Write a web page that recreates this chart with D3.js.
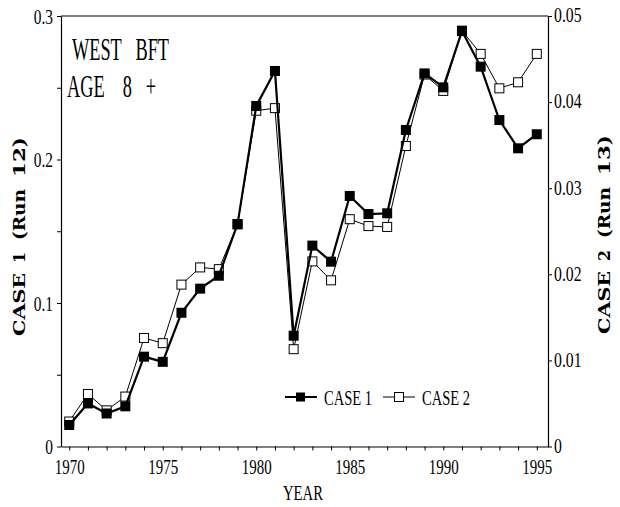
<!DOCTYPE html>
<html>
<head>
<meta charset="utf-8">
<script src="https://cdn.jsdelivr.net/npm/d3@7/dist/d3.min.js"></script>
<style>
  html, body { margin: 0; padding: 0; background: #fff; }
  svg { display: block; }
  text { fill: #000; }
</style>
</head>
<body>
<svg id="chart" width="620" height="507"></svg>
<script>
// West BFT, age 8+ : two model runs on separate y scales
const years = d3.range(1970, 1996);
const case1 = [0.015, 0.030, 0.023, 0.028, 0.0626, 0.059, 0.0932, 0.110, 0.119, 0.155,
               0.2373, 0.2617, 0.0772, 0.140, 0.1288, 0.1746, 0.162, 0.1625, 0.2206, 0.260,
               0.2503, 0.2895, 0.2647, 0.2275, 0.2078, 0.2176];
const case2 = [0.0029, 0.0061, 0.0042, 0.0058, 0.0126, 0.0120, 0.0188, 0.0208, 0.0206, 0.0258,
               0.0390, 0.0393, 0.0113, 0.0215, 0.0193, 0.0264, 0.0256, 0.0255, 0.0349, 0.0432,
               0.0413, 0.0483, 0.0456, 0.0416, 0.0423, 0.0456];
const leftTicks = [0, 0.05, 0.1, 0.15, 0.2, 0.25, 0.3];
const leftLabels = [0, 0.1, 0.2, 0.3];
const rightTicks = [0, 0.01, 0.02, 0.03, 0.04, 0.05];
const xLabels = [1970, 1975, 1980, 1985, 1990, 1995];
const seriesNames = ["CASE 1", "CASE 2"];
const leftTitle = ["CASE", "1", "(Run", "12)"];
const rightTitle = ["CASE", "2", "(Run", "13)"];

const svg = d3.select("#chart");
const serif = "'Liberation Serif', 'Times New Roman', serif";
const boldSerif = "'DejaVu Serif', serif";

const pL = 61, pR = 548, pT = 16, pB = 446.5;
const x = d3.scaleLinear().domain([1969.56, 1995.6]).range([pL, pR]);
const y1 = d3.scaleLinear().domain([0, 0.3]).range([pB, pT]);
const y2 = d3.scaleLinear().domain([0, 0.05]).range([pB, pT]);

// squeeze glyphs horizontally to get the narrow typewriter-era serif look
function condense(sel, k) {
  sel.each(function () {
    const w = this.getComputedTextLength();
    d3.select(this).attr("textLength", w * k).attr("lengthAdjust", "spacingAndGlyphs");
  });
}

// frame top line
svg.append("line").attr("x1", pL).attr("x2", pR).attr("y1", pT).attr("y2", pT)
  .attr("stroke", "#000").attr("stroke-width", 1);

// axes
const fmtL = d => d === 0 ? "0" : d3.format(".1f")(d);
const fmtR = d => d === 0 ? "0" : d3.format(".2f")(d);

const gx = svg.append("g").attr("transform", `translate(0,${pB})`)
  .call(d3.axisBottom(x).tickValues(years).tickSize(4).tickSizeOuter(0)
    .tickFormat(d => xLabels.includes(d) ? String(d) : ""));
const gl = svg.append("g").attr("transform", `translate(${pL},0)`)
  .call(d3.axisLeft(y1).tickValues(leftTicks).tickSize(4).tickSizeOuter(0)
    .tickFormat(d => leftLabels.some(v => Math.abs(v - d) < 1e-9) ? fmtL(d) : ""));
const gr = svg.append("g").attr("transform", `translate(${pR},0)`)
  .call(d3.axisRight(y2).tickValues(rightTicks).tickSize(4).tickSizeOuter(0).tickFormat(fmtR));

[gx, gl, gr].forEach(g => {
  g.select(".domain").attr("stroke", "#000").attr("stroke-width", 1.2);
  g.selectAll(".tick line").attr("stroke", "#000");
  g.selectAll("text").attr("font-family", serif).attr("fill", "#000");
});
gx.selectAll("text").attr("font-size", 22).attr("dy", null).attr("y", 27);
gl.selectAll("text").attr("font-size", 22).attr("x", -8).attr("dy", "0.34em");
gr.selectAll("text").attr("font-size", 21).attr("x", 6).attr("dy", "0.28em");
condense(gx.selectAll("text"), 0.68);
condense(gl.selectAll("text"), 0.7);
condense(gr.selectAll("text"), 0.75);

// series
const pts1 = years.map((yr, i) => [x(yr), y1(case1[i])]);
const pts2 = years.map((yr, i) => [x(yr), y2(case2[i])]);
const line = d3.line();

svg.append("path").attr("d", line(pts2)).attr("fill", "none")
  .attr("stroke", "#000").attr("stroke-width", 1);
svg.append("g").selectAll("rect").data(pts2).join("rect")
  .attr("x", d => d[0] - 4.5).attr("y", d => d[1] - 4.5)
  .attr("width", 9).attr("height", 9)
  .attr("fill", "#fff").attr("stroke", "#000").attr("stroke-width", 1);

svg.append("path").attr("d", line(pts1)).attr("fill", "none")
  .attr("stroke", "#000").attr("stroke-width", 2.2);
svg.append("g").selectAll("rect").data(pts1).join("rect")
  .attr("x", d => d[0] - 5).attr("y", d => d[1] - 5)
  .attr("width", 10).attr("height", 10).attr("fill", "#000");

// legend
const lg = svg.append("g");
const legY = 397;
lg.append("line").attr("x1", 285).attr("x2", 317).attr("y1", legY).attr("y2", legY)
  .attr("stroke", "#000").attr("stroke-width", 2);
lg.append("rect").attr("x", 296).attr("y", legY - 4.5).attr("width", 9).attr("height", 9).attr("fill", "#000");
lg.append("line").attr("x1", 383).attr("x2", 415).attr("y1", legY).attr("y2", legY)
  .attr("stroke", "#000").attr("stroke-width", 1);
lg.append("rect").attr("x", 394.5).attr("y", legY - 4.5).attr("width", 9).attr("height", 9)
  .attr("fill", "#fff").attr("stroke", "#000");
const lt = lg.selectAll("text.lab").data([[324, seriesNames[0]], [422, seriesNames[1]]]).join("text")
  .attr("class", "lab").attr("x", d => d[0]).attr("y", legY + 8)
  .attr("font-family", serif).attr("font-size", 22).text(d => d[1]);
condense(lt, 0.66);

// panel title
const title = svg.append("g").attr("font-family", serif).attr("font-size", 32);
const tparts = [[72, 60, "WEST\u00a0\u00a0\u00a0BFT", 97], [67, 97, "AGE\u00a0\u00a0\u00a0\u00a08\u00a0\u00a0\u00a0+", 89]];
title.selectAll("text").data(tparts).join("text")
  .attr("x", d => d[0]).attr("y", d => d[1]).text(d => d[2])
  .attr("textLength", d => d[3]).attr("lengthAdjust", "spacingAndGlyphs");

// x-axis title
const xt = svg.append("text").attr("x", 303).attr("y", 500).attr("text-anchor", "middle")
  .attr("font-family", serif).attr("font-size", 21).text("YEAR");
condense(xt, 0.7);

// y-axis titles: words set along a vertical baseline, reading upward;
// starts are the screen y where each word begins, lengths its run
function verticalTitle(words, baseX, starts, lengths) {
  const t = svg.append("text").attr("transform", `translate(${baseX},0) rotate(-90)`)
    .attr("font-family", boldSerif).attr("font-weight", "bold").attr("font-size", 16.5);
  words.forEach((w, i) => {
    t.append("tspan").attr("x", -starts[i]).attr("y", 0)
      .attr("textLength", lengths[i]).attr("lengthAdjust", "spacingAndGlyphs").text(w);
  });
}
verticalTitle(leftTitle, 25, [336, 263, 240, 177], [63, 11, 51, 40]);
verticalTitle(rightTitle, 610, [334, 261, 238, 175], [63, 11, 51, 40]);
</script>
</body>
</html>
